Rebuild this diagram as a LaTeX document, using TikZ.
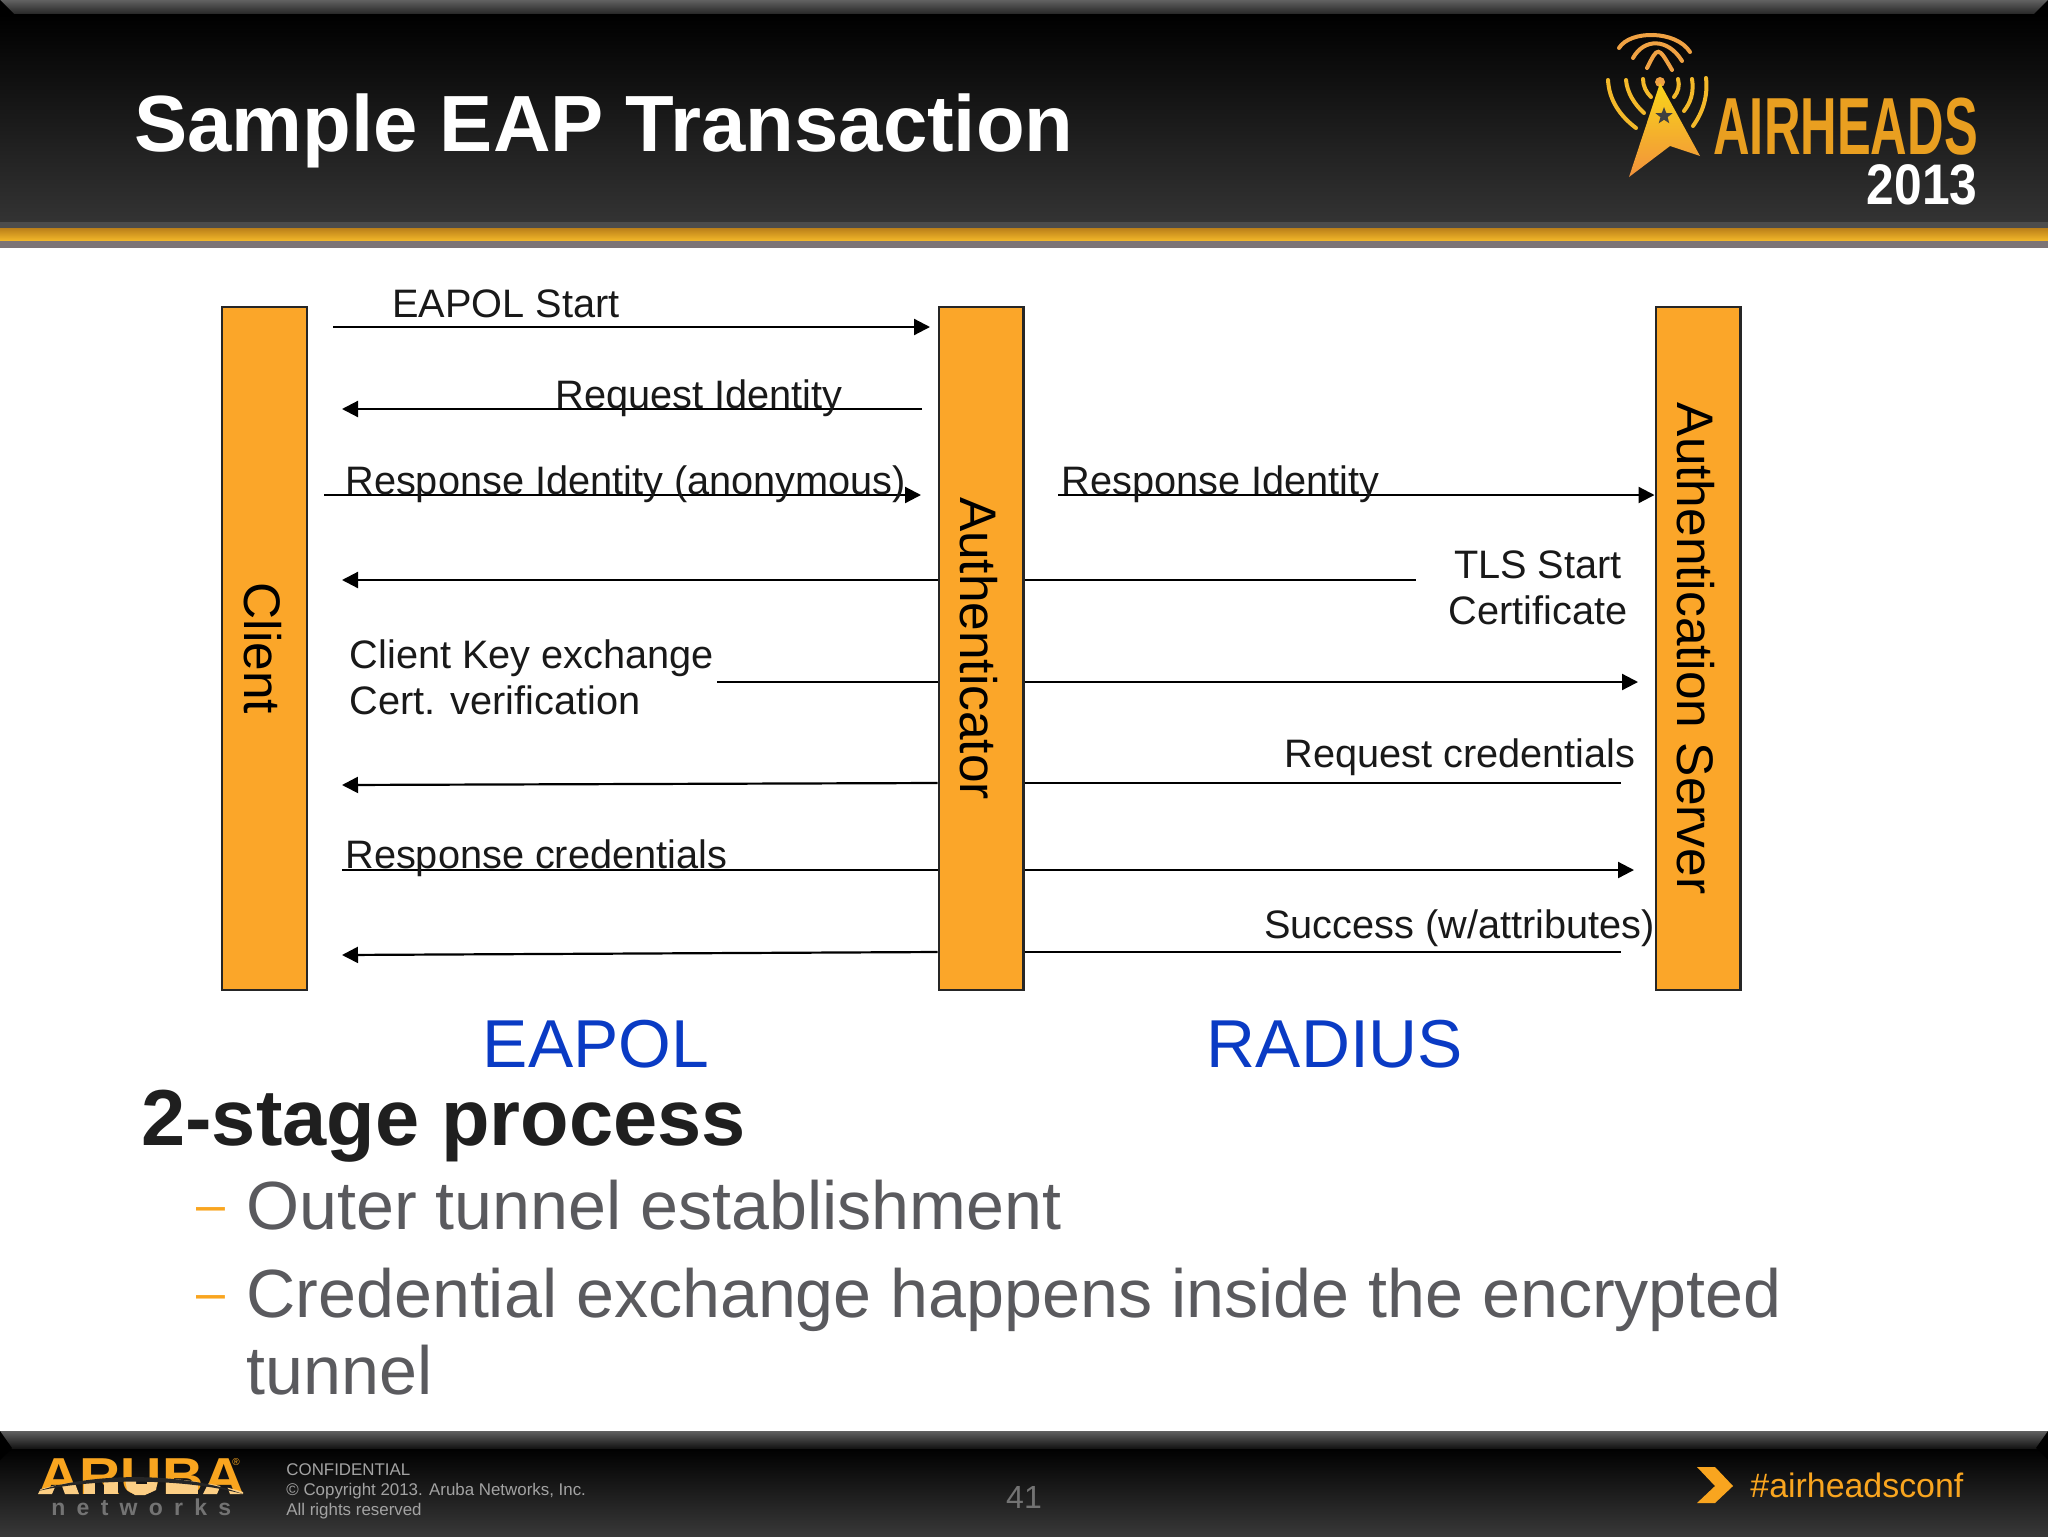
\documentclass[tikz,border=0pt]{standalone}
\usepackage{fontspec}
\setmainfont{Liberation Sans}
\usetikzlibrary{arrows.meta,shapes.geometric}
\definecolor{laneorange}{HTML}{FBA629}
\definecolor{tagorange}{HTML}{F9A51F}
\definecolor{radioyellow}{HTML}{F4B92A}
\definecolor{radioorange}{HTML}{F0A243}
\definecolor{wordgold}{HTML}{E99F20}
\definecolor{protoblue}{HTML}{0A3BC4}
\definecolor{bodygray}{HTML}{5A5A5E}
\definecolor{footgray}{HTML}{A3A3A3}
\definecolor{rimgray}{HTML}{7C7476}
\newcommand{\lanetext}[1]{\hspace*{-2pt}\rotatebox{-90}{#1}}
\tikzset{%
   x=.5pt, y=-.5pt,
   lanebox/.style={rectangle, draw=black!85, fill=laneorange, line width=1.1pt, inner sep=0mm,
      minimum width=42.4pt, minimum height=341.5pt, font=\fontsize{25.7}{30}\selectfont},
   msglabel/.style={anchor=base west, inner sep=0pt, text=black!90, font=\fontsize{19.85}{22.8}\selectfont},
   msg/.style={draw=black, line width=1.1pt},
   msgarrow/.style={msg, -{Triangle[length=8pt,width=8pt]}},
   protolabel/.style={anchor=base, inner sep=0pt, text=protoblue, font=\fontsize{33.9}{40}\selectfont},
   bodyline/.style={anchor=base west, inner sep=0pt, text=bodygray, font=\fontsize{34.1}{40}\selectfont},
   bodydash/.style={anchor=base west, inner sep=0pt, text=tagorange, font=\fontsize{26}{40}\selectfont},
   footline/.style={anchor=base west, inner sep=0pt, text=footgray, font=\fontsize{8.45}{10}\selectfont},
   radio/.style={line width=2pt, line cap=round},
}
\begin{document}
\begin{tikzpicture}
   \useasboundingbox (0,0) rectangle (2048,1536);
   \fill[white] (0,0) rectangle (2048,1536);

   % header band
   \shade[top color=black, bottom color=black!80] (0,14) rectangle (2048,222);
   \shade[top color=black!62, bottom color=black!85] (0,0) rectangle (2048,14);
   \fill[black] (2048,0) -- (2034,14) -- (2048,14) -- cycle;
   \fill[black] (0,0) -- (14,14) -- (0,14) -- cycle;
   \fill[black!70] (0,222) rectangle (2048,228);
   \shade[top color=black!20!wordgold, bottom color=radioyellow] (0,228) rectangle (2048,241);
   \fill[rimgray] (0,241) rectangle (2048,248);
   \node[anchor=base west, inner sep=0pt, text=white, font=\bfseries\fontsize{39.85}{46}\selectfont] (title) at (134,151) {Sample EAP Transaction};

   % airheads logo
   \foreach \p/\q/\r [count=\i] in {1619/1652/1690, 1633/1657/1682, 1647/1659/1672}
      \draw[radio, radioorange] (\p,{48+10*(\i-1)}) .. controls ({\p+11},{30+8*(\i-1)}) and ({\r-14},{30+8*(\i-1)}) .. (\r,{52+9*(\i-1)});
   \draw[radio, radioyellow] (1608,80) .. controls (1609,100) and (1620,116) .. (1636,128);
   \draw[radio, radioyellow] (1626,80) .. controls (1627,92) and (1634,104) .. (1644,113);
   \draw[radio, radioyellow] (1643,79) .. controls (1643,86) and (1646,92) .. (1651,97);
   \draw[radio, radioyellow] (1678,79) .. controls (1680,86) and (1678,92) .. (1674,97);
   \draw[radio, radioyellow] (1692,79) .. controls (1694,92) and (1691,102) .. (1684,111);
   \draw[radio, radioyellow] (1706,78) .. controls (1708,96) and (1703,112) .. (1693,126);
   \fill[radioorange] (1660,82) circle (2.5pt);
   \shade[top color=radioyellow!60!yellow, bottom color=radioorange!90!red]
      (1660,83) -- (1700,156) -- (1670,146) -- (1629,177) -- cycle;
   \node[star, star points=5, star point ratio=2.4, fill=black!75, inner sep=0pt, minimum size=9pt] (logostar) at (1664,116) {};
   \node[anchor=base west, inner sep=0pt, text=wordgold, font=\bfseries\fontsize{40.5}{46}\selectfont] (airheads) at (1713,155) {\scalebox{.625}[1]{AIRHEADS}};
   \node[anchor=base east, inner sep=0pt, text=white, font=\bfseries\fontsize{28.6}{34}\selectfont] (year) at (1978,204) {\scalebox{.87}[1]{2013}};

   % sequence chart
   \node[lanebox] (client) at (264.5,648.5) {\lanetext{Client}};
   \node[lanebox] (auth) at (981,648.5) {\lanetext{Authenticator}};
   \node[lanebox] (server) at (1698,648.5) {\lanetext{Authentication Server}};

   \foreach \nm/\x/\y in {a/333/327, b/930/327, c/922/409, d/342/409, e/324/495, f/921/495,
         g/1058/495, h/1416/580, i/342/580, j/717/682, k/1638/682, l/342/785, m/1621/783,
         n/342/870, o/1634/870, p/342/955, q/1621/952}
      \coordinate (\nm) at (\x,\y);

   \draw[msgarrow] (a) -- (b);
   \draw[msgarrow] (c) -- (d);
   \draw[msgarrow] (e) -- (f);
   \draw[msgarrow] (g) -- (server.west |- g);
   \draw[msgarrow] (auth.west |- i) -- (i);
   \draw[msg] (auth.east |- h) -- (h);
   \draw[msg] (j) -- (auth.west |- j);
   \draw[msgarrow] (auth.east |- k) -- (k);
   \draw[msgarrow] (auth.west |- m) -- (l);
   \draw[msg] (auth.east |- m) -- (m);
   \draw[msg] (n) -- (auth.west |- n);
   \draw[msgarrow] (auth.east |- o) -- (o);
   \draw[msgarrow] (auth.west |- q) -- (p);
   \draw[msg] (auth.east |- q) -- (q);

   \node[msglabel] (startlbl) at (392,317) {EAPOL Start};
   \node[msglabel] (reqidlbl) at (555,408) {Request Identity};
   \node[msglabel] (respanon) at (345,494) {Response Identity (anonymous)};
   \node[msglabel] (respid) at (1061,494) {Response Identity};
   \node[msglabel, align=center, anchor=center] (tlslbl) at (1538,588) {TLS Start\\Certificate};
   \node[msglabel, align=left, anchor=center] (keylbl) at (532,677) {Client Key exchange\\Cert. verification};
   \node[msglabel] (reqcred) at (1284,767) {Request credentials};
   \node[msglabel] (respcred) at (345,868) {Response credentials};
   \node[msglabel] (success) at (1264,938) {Success (w/attributes)};

   \node[protolabel] (eapol) at (596,1067) {EAPOL};
   \node[protolabel] (radius) at (1335,1067) {RADIUS};

   % body text
   \node[anchor=base west, inner sep=0pt, text=black!88, font=\bfseries\fontsize{39.7}{46}\selectfont] (stages) at (141,1145) {2-stage process};
   \node[bodydash] (dasha) at (196,1222) {--};
   \node[bodyline] (linea) at (246,1229) {Outer tunnel establishment};
   \node[bodydash] (dashb) at (196,1310) {--};
   \node[bodyline] (lineb) at (246,1317) {Credential exchange happens inside the encrypted};
   \node[bodyline] (linec) at (246,1394) {tunnel};

   % footer band
   \shade[top color=black, bottom color=black!78] (0,1448) rectangle (2048,1536);
   \shade[top color=black!62, bottom color=black!92] (0,1431) rectangle (2048,1448);
   \fill[black] (0,1431) -- (12,1448) -- (0,1460) -- cycle;
   \fill[black] (2048,1431) -- (2036,1448) -- (2048,1460) -- cycle;

   % aruba logo
   \node[anchor=base west, inner sep=0pt, text=tagorange, font=\bfseries\fontsize{26}{30}\selectfont] (aruba) at (38,1494) {\scalebox{1.1}[1]{ARUBA}};
   \begin{scope}
      \clip (38,1490) .. controls (90,1474) and (180,1472) .. (243,1492) -- (243,1496) -- (38,1496) -- cycle;
      \fill[tagorange!55!white] (38,1494) -- (46,1478) -- (59,1478) -- (52,1494) -- cycle;
      \fill[tagorange!55!white] (65,1494) -- (59,1478) -- (73,1478) -- (79,1494) -- cycle;
      \fill[tagorange!55!white] (84,1478) rectangle (95,1494);
      \fill[tagorange!55!white] (104,1478) rectangle (118,1494);
      \fill[tagorange!55!white] (125,1478) -- (136,1478) -- (136,1484) -- (147,1484) -- (147,1478) -- (158,1478) -- (156,1490) -- (145,1495) -- (135,1495) -- (127,1490) -- cycle;
      \fill[tagorange!55!white] (166,1478) rectangle (198,1494);
      \fill[tagorange!55!white] (203,1494) -- (211,1478) -- (224,1478) -- (217,1494) -- cycle;
      \fill[tagorange!55!white] (230,1494) -- (224,1478) -- (238,1478) -- (244,1494) -- cycle;
   \end{scope}
   \fill[black!85] (38,1491) .. controls (90,1473) and (180,1471) .. (243,1494) .. controls (180,1477) and (90,1479) .. (38,1491) -- cycle;
   \node[anchor=center, inner sep=0pt, text=tagorange, font=\fontsize{5}{6}\selectfont] (regmark) at (236,1462) {®};
   \node[anchor=base west, inner sep=0pt, text=black!55, font=\bfseries\fontsize{11.5}{13}\addfontfeature{LetterSpace=49}\selectfont] (networks) at (51,1515) {networks};

   \node[footline] (conf) at (286,1475) {CONFIDENTIAL};
   \node[footline] (copyr) at (286,1495) {© Copyright 2013. Aruba Networks, Inc.};
   \node[footline] (rights) at (286,1515) {All rights reserved};
   \node[anchor=base, inner sep=0pt, text=black!55, font=\fontsize{16}{18}\selectfont] (pagenum) at (1024,1508) {41};

   \fill[tagorange] (1697,1467) -- (1715,1467) -- (1733,1486) -- (1715,1503) -- (1697,1503) -- (1715,1486) -- cycle;
   \node[anchor=base west, inner sep=0pt, text=tagorange, font=\fontsize{16.95}{20}\selectfont] (hashtag) at (1750,1497) {\#airheadsconf};
\end{tikzpicture}
\end{document}
